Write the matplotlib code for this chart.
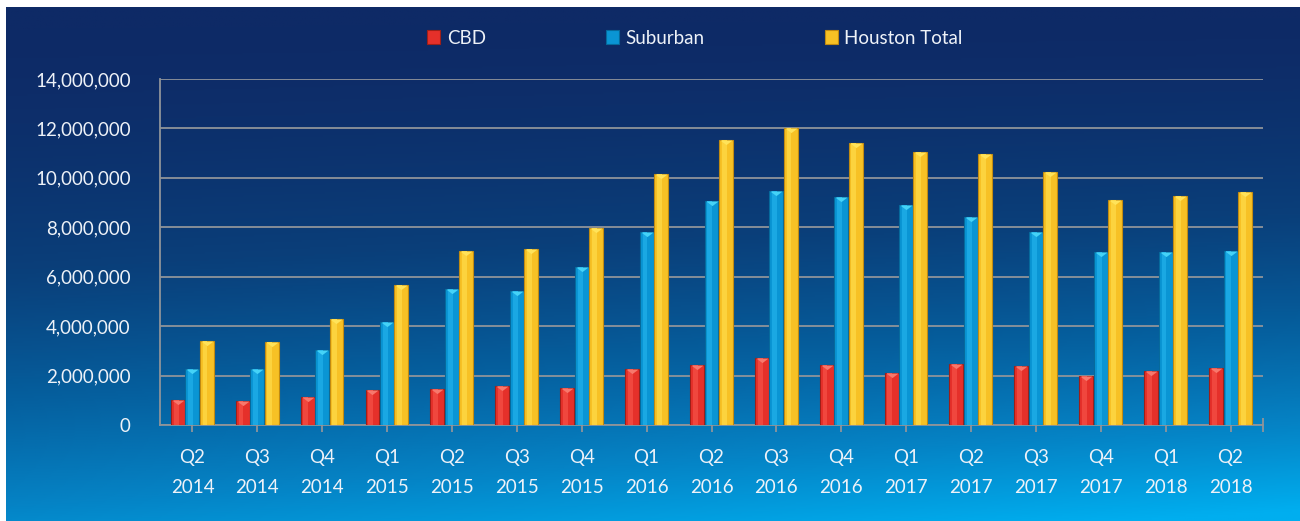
import numpy as np
import matplotlib
matplotlib.use("Agg")
import matplotlib.pyplot as plt
from matplotlib.colors import LinearSegmentedColormap
from matplotlib.patches import Patch
from matplotlib.path import Path
from matplotlib.ticker import FuncFormatter

plt.rcParams['font.family'] = ['Lato', 'DejaVu Sans']

# data
quarters = ["Q2", "Q3", "Q4", "Q1", "Q2", "Q3", "Q4", "Q1", "Q2",
            "Q3", "Q4", "Q1", "Q2", "Q3", "Q4", "Q1", "Q2"]
years = ["2014", "2014", "2014", "2015", "2015", "2015", "2015", "2016", "2016",
         "2016", "2016", "2017", "2017", "2017", "2017", "2018", "2018"]
cbd = [1030000, 990000, 1140000, 1420000, 1450000, 1590000, 1500000, 2260000, 2430000,
       2730000, 2430000, 2090000, 2470000, 2370000, 1980000, 2170000, 2290000]
suburban = [2260000, 2260000, 3040000, 4150000, 5490000, 5410000, 6380000, 7810000, 9080000,
            9470000, 9220000, 8900000, 8400000, 7800000, 7010000, 7010000, 7050000]
houston_total = [3380000, 3350000, 4280000, 5650000, 7030000, 7110000, 7960000, 10150000, 11550000,
                 12030000, 11420000, 11060000, 10950000, 10250000, 9100000, 9270000, 9410000]
series_names = ["CBD", "Suburban", "Houston Total"]

fig = plt.figure(figsize=(13, 5.21), dpi=100)
fig.patch.set_facecolor("white")

# gradient background panel
bg = fig.add_axes([6 / 1300, 0, 1 - 6 / 1300, 1 - 7 / 521])
bg.set_axis_off()
yy, xx = np.mgrid[0:1:300j, 0:1:600j]
t = np.clip(0.78 * yy ** 1.7 + 0.25 * xx * yy ** 1.2, 0, 1)
cmap = LinearSegmentedColormap.from_list("bgc", ["#0e2a66", "#0a3f7a", "#05609f", "#0584c6", "#00aeef"])
bg.imshow(t, cmap=cmap, aspect="auto", extent=[0, 1, 0, 1], origin="upper", vmin=0, vmax=1)

ax = fig.add_axes([160 / 1300, 1 - 425 / 521, (1263 - 160) / 1300, (425 - 79) / 521])
ax.patch.set_alpha(0)

x = np.arange(len(quarters))
w = 0.215
offs = [-0.225, 0.0, 0.22]
fills = ["#e5302a", "#0a95d4", "#f7c125"]
edges = ["#9e1f18", "#066a9c", "#c08a12"]
caps = ["#f7786c", "#45d3f7", "#ffe35a"]
highlights = ["#f0473e", "#1aa8e3", "#fcd33e"]

cap_marker = Path([(-1, 0), (1, 0), (0, -0.75), (-1, 0)],
                  [Path.MOVETO, Path.LINETO, Path.LINETO, Path.CLOSEPOLY])

for vals, off, fc, ec, cc, hc in zip([cbd, suburban, houston_total], offs, fills, edges, caps, highlights):
    ax.bar(x + off, vals, width=w, color=fc, edgecolor=ec, linewidth=0.8, zorder=3)
    ax.bar(x + off - w * 0.12, vals, width=w * 0.35, color=hc, linewidth=0, zorder=3.5)
    ax.scatter(x + off, vals, marker=cap_marker, s=78, color=cc, linewidths=0, zorder=4)

ax.set_xlim(-0.5, len(quarters) - 0.5)
ax.set_ylim(0, 14000000)
ax.set_yticks(np.arange(0, 14000001, 2000000))
ax.yaxis.set_major_formatter(FuncFormatter(lambda v, p: f"{int(v):,}"))
ax.grid(axis="y", color="#8f949a", linewidth=1.3, zorder=1)
ax.set_axisbelow(True)

ax.set_xticks(x)
ax.set_xticklabels([f"{q}\n{y}" for q, y in zip(quarters, years)], linespacing=1.95)
ax.set_xticks([len(quarters) - 0.5], minor=True)

for s in ["top", "right"]:
    ax.spines[s].set_visible(False)
for s in ["left", "bottom"]:
    ax.spines[s].set_color("#8f949a")
    ax.spines[s].set_linewidth(1.3)

ax.tick_params(axis="y", length=0, pad=21, labelsize=13.5, labelcolor="#eef2f8")
ax.tick_params(axis="x", which="both", direction="inout", length=10, width=1.3, color="#8f949a",
               pad=12, labelsize=13.5, labelcolor="#eef2f8")

handles = [Patch(facecolor=fc, edgecolor=ec, linewidth=0.8) for fc, ec in zip(fills, edges)]
leg = fig.legend(handles, series_names, loc="center", bbox_to_anchor=(695 / 1300, 1 - 38 / 521),
                 ncol=3, frameon=False, fontsize=13.5, handlelength=0.7, handleheight=0.7,
                 handletextpad=0.35, columnspacing=6.4, labelcolor="#eef2f8")

fig.savefig("out.png", dpi=100, facecolor=fig.get_facecolor())
